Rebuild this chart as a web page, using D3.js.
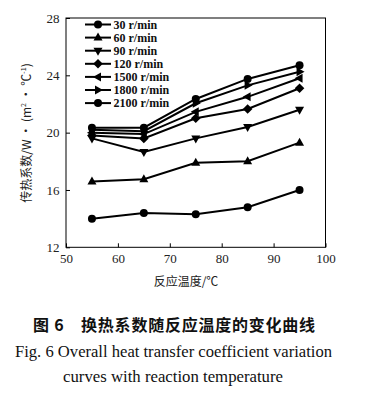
<!DOCTYPE html>
<html><head><meta charset="utf-8">
<script src="https://cdn.jsdelivr.net/npm/d3@7"></script>
<style>body{margin:0;background:#fff}svg{display:block}</style>
</head><body>
<svg id="c" width="368" height="398"></svg>
<script>
const temps = [55, 65, 75, 85, 95];
const seriesNames = ["30 r/min","60 r/min","90 r/min","120 r/min","1500 r/min","1800 r/min","2100 r/min"];
const s30   = [14.0, 14.4, 14.3, 14.8, 16.0];
const s60   = [16.6, 16.75, 17.9, 18.0, 19.3];
const s90   = [19.6, 18.65, 19.6, 20.4, 21.6];
const s120  = [19.8, 19.6, 21.0, 21.65, 23.1];
const s1500 = [20.0, 19.9, 21.45, 22.5, 23.8];
const s1800 = [20.2, 20.1, 22.05, 23.3, 24.25];
const s2100 = [20.35, 20.35, 22.35, 23.75, 24.7];
const seriesValues = [s30, s60, s90, s120, s1500, s1800, s2100];
const markers = ["circle","up","down","diamond","left","right","circle"];
const xTicks = [50, 60, 70, 80, 90, 100];
const yTicks = [12, 16, 20, 24, 28];

const svg = d3.select("#c");
const x = d3.scaleLinear().domain([50,100]).range([66,325.5]);
const y = d3.scaleLinear().domain([12,28]).range([247.3,18]);

function tri(dir, s){
  const p = {
    up:[[0,-s],[s*0.9,s*0.6],[-s*0.9,s*0.6]],
    down:[[0,s],[s*0.9,-s*0.6],[-s*0.9,-s*0.6]],
    left:[[-s,0],[s*0.6,-s*0.9],[s*0.6,s*0.9]],
    right:[[s,0],[-s*0.6,-s*0.9],[-s*0.6,s*0.9]]
  }[dir];
  return "M"+p.map(q=>q.join(",")).join("L")+"Z";
}
function drawMarker(g, type, cx, cy){
  if(type==="circle") g.append("circle").attr("cx",cx).attr("cy",cy).attr("r",4).attr("fill","#000");
  else if(type==="diamond") g.append("path").attr("d","M0,-4.8L4.8,0L0,4.8L-4.8,0Z").attr("transform",`translate(${cx},${cy})`).attr("fill","#000");
  else g.append("path").attr("d",tri(type,5)).attr("transform",`translate(${cx},${cy})`).attr("fill","#000");
}

// frame
svg.append("rect").attr("x",x(50)).attr("y",y(28)).attr("width",x(100)-x(50)).attr("height",y(12)-y(28))
  .attr("fill","none").attr("stroke","#000").attr("stroke-width",1);

// axes
const xAxis = d3.axisBottom(x).tickValues(xTicks).tickSizeInner(-4).tickSizeOuter(0).tickPadding(6);
const gx = svg.append("g").attr("transform",`translate(0,${y(12)})`).call(xAxis);
const yAxis = d3.axisLeft(y).tickValues(yTicks).tickSizeInner(-4).tickSizeOuter(0).tickPadding(6);
const gy = svg.append("g").attr("transform",`translate(${x(50)},0)`).call(yAxis);
[gx,gy].forEach(g=>{
  g.select(".domain").remove();
  g.selectAll("text").attr("font-family","Liberation Serif, serif").attr("font-size",13).attr("fill","#222");
  g.selectAll("line").attr("stroke","#000");
});
gy.selectAll("text").attr("dx",-0.5);

// lines
const line = d3.line().x((d,i)=>x(temps[i])).y(d=>y(d));
seriesValues.forEach((vals,k)=>{
  svg.append("path").attr("d",line(vals)).attr("fill","none").attr("stroke","#000").attr("stroke-width",2);
  const g = svg.append("g");
  vals.forEach((v,i)=>drawMarker(g, markers[k], x(temps[i]), y(v)));
});

// legend
const lg = svg.append("g");
seriesNames.forEach((n,k)=>{
  const ly = 24.5 + k*13.1;
  lg.append("line").attr("x1",85).attr("x2",111).attr("y1",ly).attr("y2",ly).attr("stroke","#000").attr("stroke-width",2);
  drawMarker(lg, markers[k], 98, ly);
  lg.append("text").attr("x",113.5).attr("y",ly+4).text(n)
    .attr("font-family","Liberation Serif, serif").attr("font-size",12).attr("font-weight","bold").attr("fill","#111");
});

// axis titles
svg.append("text").attr("x",186).attr("y",286).attr("text-anchor","middle")
  .attr("font-family","Noto Sans CJK SC, sans-serif").attr("font-size",12).attr("fill","#222").text("反应温度/℃");
const yt = svg.append("text").attr("transform","translate(31,133) rotate(-90)").attr("text-anchor","middle")
  .attr("font-family","Noto Sans CJK SC, sans-serif").attr("font-size",12).attr("fill","#222");
yt.append("tspan").text("传热系数/W · (m");
yt.append("tspan").attr("font-size",7).attr("dy",-5).text("2");
yt.append("tspan").attr("dy",5).text(" · ℃");
yt.append("tspan").attr("font-size",7).attr("dy",-5).text("-1");
yt.append("tspan").attr("dy",5).text(")");

// caption
svg.append("text").attr("x",33).attr("y",331)
  .attr("font-family","Noto Sans CJK SC, sans-serif").attr("font-size",16).attr("font-weight","bold").attr("fill","#111")
  .attr("textLength",282).attr("lengthAdjust","spacing")
  .attr("xml:space","preserve").text("图 6　换热系数随反应温度的变化曲线");
svg.append("text").attr("x",15).attr("y",357)
  .attr("font-family","Liberation Serif, serif").attr("font-size",16).attr("fill","#111")
  .attr("textLength",317).attr("lengthAdjust","spacingAndGlyphs")
  .text("Fig. 6 Overall heat transfer coefficient variation");
svg.append("text").attr("x",63).attr("y",382)
  .attr("font-family","Liberation Serif, serif").attr("font-size",16).attr("fill","#111")
  .attr("textLength",220).attr("lengthAdjust","spacingAndGlyphs")
  .text("curves with reaction temperature");
</script>
</body></html>
